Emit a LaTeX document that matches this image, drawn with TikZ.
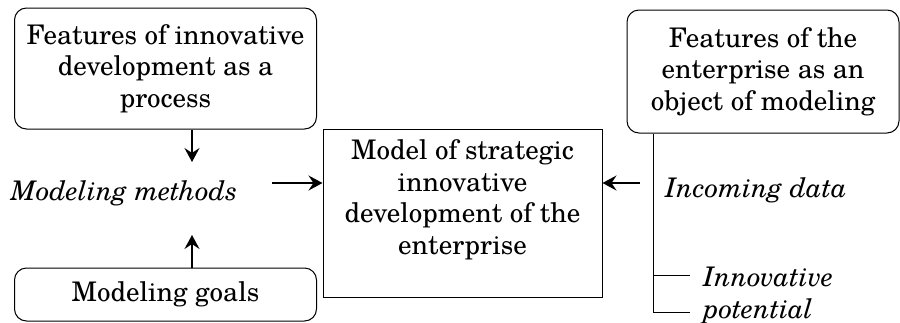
\documentclass[tikz,border=0pt]{standalone}
\usepackage{fontspec}
\setmainfont{TeX Gyre Schola}
\usetikzlibrary{arrows.meta}
\newcommand{\figfont}{\fontsize{13.5}{15.75}\selectfont}
\tikzset{
  feature/.style={draw, rounded corners=6pt, align=center, inner sep=0pt, line width=0.5pt},
  modelbox/.style={draw, align=center, inner sep=0pt, line width=0.5pt},
  factor/.style={font=\figfont\itshape, align=left, inner sep=0pt},
}
\begin{document}
\begin{tikzpicture}[>={Stealth[length=7pt,width=7.5pt,inset=2.5pt]}, x=0.5pt, y=-0.5pt, font=\figfont]
\useasboundingbox (0,0) rectangle (900,322);
% boxes
\node[feature, minimum width=151pt, minimum height=60.5pt] (fproc) at (165.5,68.5)
  {Features of innovative\\development as a\\process};
\node[feature, minimum width=151pt, minimum height=26.5pt] (goals) at (165.5,294.5)
  {Modeling goals};
\node[modelbox, minimum width=139.5pt, minimum height=84pt] (model) at (462.5,213)
  {Model of strategic\\innovative\\development of the\\enterprise\\\mbox{}};
\node[feature, minimum width=136pt, minimum height=61.5pt] (fent) at (763,71.5)
  {Features of the\\enterprise as an\\object of modeling};
% factors
\node[factor] (methods) at (124,193) {Modeling methods};
\node[factor, anchor=west] (data) at (665,190) {Incoming data};
\node[factor, anchor=north west] (potential) at (703,267) {Innovative\\potential};
% arrows
\coordinate (m1) at (192,162);
\coordinate (m2) at (192,235);
\coordinate (m3) at (272,183);
\coordinate (d1) at (640,183);
\draw[->, line width=1.2pt] (fproc.south -| m1) -- (m1);
\draw[->, line width=1.2pt] (goals.north -| m2) -- (m2);
\draw[->, line width=1.2pt] (m3) -- (m3 -| model.west);
\draw[->, line width=1.2pt] (d1) -- (d1 -| model.east);
% bracket
\coordinate (b1) at (653,275);
\coordinate (b2) at (653,312);
\draw[line width=0.5pt] (fent.south -| b2) -- (b2) -- ++(37,0);
\draw[line width=0.5pt] (b1) -- ++(37,0);
\end{tikzpicture}
\end{document}
